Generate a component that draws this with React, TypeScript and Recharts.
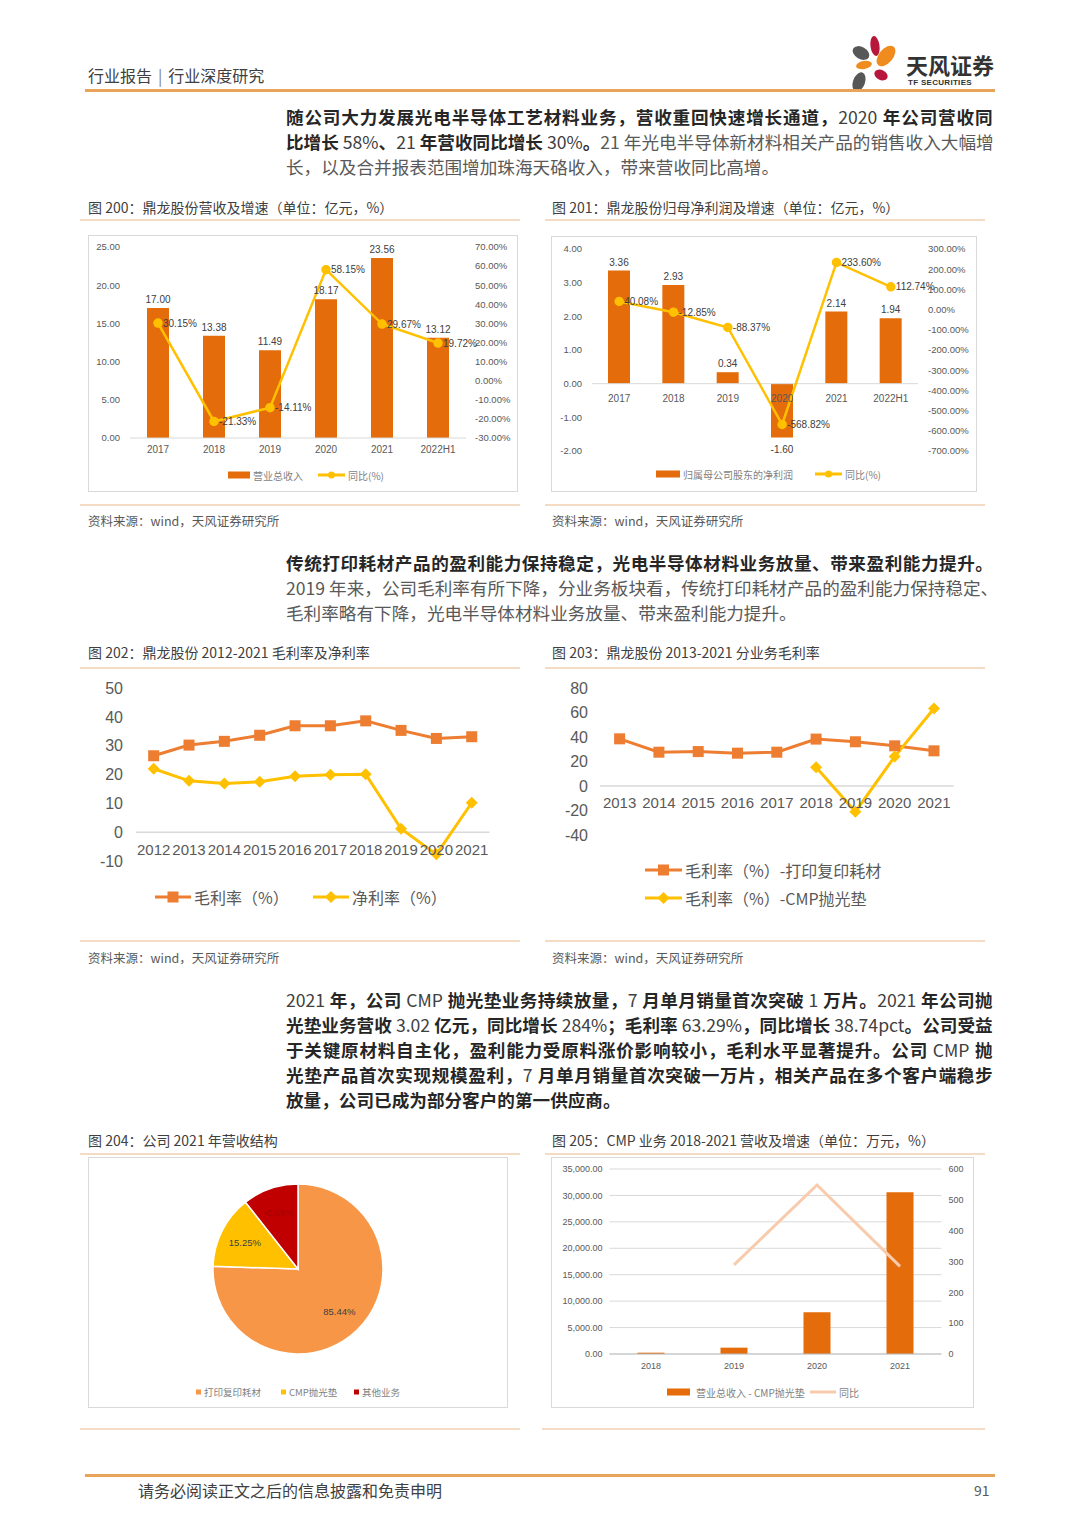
import React from "react";
import {
  Bar,
  Cell,
  CartesianGrid,
  ComposedChart,
  LabelList,
  Line,
  LineChart,
  Pie,
  PieChart,
  ReferenceLine,
  XAxis,
  YAxis,
} from "recharts";

const SANS = '"Noto Sans CJK SC", "Noto Sans", sans-serif';
const NUM = '"Liberation Sans", Arial, sans-serif';

const BAR = "#E46C0A";
const ORANGE = "#ED7D31";
const YELLOW = "#FFC000";
const PEACH = "#F8CBAD";
const TICK_GREY = "#595959";

// 图200 营收及增速
const revYears = ["2017", "2018", "2019", "2020", "2021", "2022H1"];
const revenue = [17.0, 13.38, 11.49, 18.17, 23.56, 13.12];
const revenueYoy = [30.15, -21.33, -14.11, 58.15, 29.67, 19.72];
const revLeftTicks = [0, 5, 10, 15, 20, 25];
const revRightTicks = [-30, -20, -10, 0, 10, 20, 30, 40, 50, 60, 70];

// 图201 归母净利润及增速
const profit = [3.36, 2.93, 0.34, -1.6, 2.14, 1.94];
const profitYoy = [40.08, -12.85, -88.37, -568.82, 233.6, 112.74];
const profitLeftTicks = [-2, -1, 0, 1, 2, 3, 4];
const profitRightTicks = [-700, -600, -500, -400, -300, -200, -100, 0, 100, 200, 300];

// 图202 毛利率及净利率
const marginYears = ["2012", "2013", "2014", "2015", "2016", "2017", "2018", "2019", "2020", "2021"];
const grossMargin = [26.5, 30.2, 31.5, 33.6, 36.9, 36.9, 38.6, 35.3, 32.5, 33.1];
const netMargin = [22.0, 17.8, 16.9, 17.5, 19.4, 19.9, 20.1, 1.2, -7.7, 10.2];
const marginTicks = [-10, 0, 10, 20, 30, 40, 50];

// 图203 分业务毛利率
const segYears = ["2013", "2014", "2015", "2016", "2017", "2018", "2019", "2020", "2021"];
const printMargin = [38.5, 27.6, 28.1, 26.8, 27.6, 38.3, 36.1, 32.8, 28.7];
const cmpMargin = [null, null, null, null, null, 15.3, -21.0, 24.0, 63.29];
const segTicks = [-40, -20, 0, 20, 40, 60, 80];

// 图204 营收结构
const pieNames = ["打印复印耗材", "CMP抛光垫", "其他业务"];
const pieShares = [75.5, 13.9, 10.6];
const pieLabels = ["85.44%", "15.25%", "-0.69%"];
const pieColors = ["#F79646", "#FFC000", "#C00000"];
const pieLabelColors = ["#404040", "#404040", "#A80000"];

// 图205 CMP 营收及增速
const cmpYears = ["2018", "2019", "2020", "2021"];
const cmpRevenue = [250, 1200, 7900, 30600];
const cmpYoy = [null, 289, 548, 284];
const cmpLeftTicks = [0, 5000, 10000, 15000, 20000, 25000, 30000, 35000];
const cmpRightTicks = [0, 100, 200, 300, 400, 500, 600];

type Part = [string, boolean];

function TextLine({ y, parts, justify = true }: { y: number; parts: Part[]; justify?: boolean }) {
  const tokens: { t: string; b: boolean }[] = [];
  parts.forEach(([s, b]) => {
    (s.match(/[A-Za-z0-9.%\-]+|\s+|[^\sA-Za-z0-9.%\-]/g) || []).forEach((t) => tokens.push({ t, b }));
  });
  return (
    <div
      style={{
        position: "absolute",
        left: 286,
        top: y - 13,
        width: 707,
        height: 26,
        display: "flex",
        justifyContent: justify ? "space-between" : "flex-start",
        alignItems: "center",
        fontSize: 17.6,
        lineHeight: "26px",
      }}
    >
      {tokens.map((k, i) => {
        if (/^\s+$/.test(k.t)) return <span key={i} style={{ width: 4, flexShrink: 0 }} />;
        const latin = /^[A-Za-z0-9.%\-]+$/.test(k.t);
        return (
          <span
            key={i}
            style={{
              flexShrink: 0,
              fontWeight: latin ? 400 : k.b ? 700 : 400,
              color: k.b ? (latin ? "#404040" : "#262626") : "#595959",
            }}
          >
            {k.t}
          </span>
        );
      })}
    </div>
  );
}

function T({ x, y, size, color = "#404040", weight = 400, children }: any) {
  return (
    <div
      style={{
        position: "absolute",
        left: x,
        top: y - size,
        height: size * 2,
        lineHeight: `${size * 2}px`,
        fontSize: size,
        color,
        fontWeight: weight,
        whiteSpace: "nowrap",
      }}
    >
      {children}
    </div>
  );
}

function Rule({ x, y, w, h = 2, color = "#F3DCC3" }: any) {
  return <div style={{ position: "absolute", left: x, top: y - h / 2, width: w, height: h, background: color }} />;
}

function Box({ x, y, w, h, children }: any) {
  return (
    <div
      style={{
        position: "absolute",
        left: x,
        top: y,
        width: w,
        height: h,
        border: "1px solid #D9D9D9",
        boxSizing: "border-box",
      }}
    >
      <div style={{ position: "absolute", left: -1, top: -1, width: w, height: h }}>{children}</div>
    </div>
  );
}

function Swatch({ kind, color, marker, w = 24 }: any) {
  if (kind === "bar") {
    return (
      <svg width={w} height={12}>
        <rect x={0} y={2.5} width={w} height={7} fill={color} />
      </svg>
    );
  }
  if (kind === "sq") {
    return (
      <svg width={6} height={12}>
        <rect x={0} y={3.5} width={5} height={5} fill={color} />
      </svg>
    );
  }
  const c = w / 2;
  return (
    <svg width={w} height={14}>
      <line x1={0} y1={7} x2={w} y2={7} stroke={color} strokeWidth={3} />
      {marker === "circle" && <circle cx={c} cy={7} r={3.5} fill={color} />}
      {marker === "square" && <rect x={c - 5.5} y={1.5} width={11} height={11} fill={color} />}
      {marker === "diamond" && <polygon points={`${c},1 ${c + 6},7 ${c},13 ${c - 6},7`} fill={color} />}
    </svg>
  );
}

function LegendItem({ x, y, label, size = 10, textColor = "#7F7F7F", gap = 3, kind, color, marker, w }: any) {
  return (
    <div
      style={{
        position: "absolute",
        left: x,
        top: y - 10,
        height: 20,
        display: "flex",
        alignItems: "center",
        gap,
        fontSize: size,
        color: textColor,
        whiteSpace: "nowrap",
      }}
    >
      <Swatch kind={kind} color={color} marker={marker} w={w} />
      <span>{label}</span>
    </div>
  );
}

const signedBarLabel = (size: number) => (p: any) => {
  const { x, y, width, height, value } = p;
  const top = Math.min(y, y + height);
  const bottom = Math.max(y, y + height);
  const neg = Number(value) < 0;
  return (
    <text
      x={x + width / 2}
      y={neg ? bottom + 15 : top - 5}
      textAnchor="middle"
      fontSize={size}
      fontFamily={NUM}
      fill="#404040"
    >
      {Number(value).toFixed(2)}
    </text>
  );
};

const categoryLabel = (dy: number, size: number) => (p: any) => (
  <text x={p.x} y={p.y + dy} textAnchor="middle" fontSize={size} fontFamily={NUM} fill={TICK_GREY}>
    {p.value}
  </text>
);

const squareDot = (color: string, s: number) => (p: any) => {
  if (p.cx == null || p.cy == null || p.value == null) return <g key={`s${p.index}`} />;
  return <rect key={`s${p.index}`} x={p.cx - s / 2} y={p.cy - s / 2} width={s} height={s} fill={color} />;
};

const diamondDot = (color: string, s: number) => (p: any) => {
  if (p.cx == null || p.cy == null || p.value == null) return <g key={`d${p.index}`} />;
  const h = s / 2;
  return (
    <polygon
      key={`d${p.index}`}
      points={`${p.cx},${p.cy - h} ${p.cx + h},${p.cy} ${p.cx},${p.cy + h} ${p.cx - h},${p.cy}`}
      fill={color}
    />
  );
};

const tick = (size: number) => ({ fontSize: size, fill: TICK_GREY, fontFamily: NUM });

function RevenueChart() {
  const rows = revYears.map((year, i) => ({ year, value: revenue[i], yoy: revenueYoy[i] }));
  return (
    <Box x={88} y={235} w={430} h={257}>
      <ComposedChart width={430} height={257} data={rows} margin={{ top: 12, right: 0, bottom: 32, left: 0 }}>
        <XAxis
          dataKey="year"
          height={22}
          axisLine={{ stroke: "#D9D9D9" }}
          tickLine={false}
          tickSize={0}
          tickMargin={8}
          tick={tick(10)}
          interval={0}
        />
        <YAxis
          yAxisId="l"
          width={42}
          domain={[0, 25]}
          ticks={revLeftTicks}
          interval={0}
          tickFormatter={(v: number) => v.toFixed(2)}
          axisLine={false}
          tickLine={false}
          tickSize={0}
          tickMargin={10}
          tick={tick(9.5)}
        />
        <YAxis
          yAxisId="r"
          orientation="right"
          width={52}
          domain={[-30, 70]}
          ticks={revRightTicks}
          interval={0}
          tickFormatter={(v: number) => `${v.toFixed(2)}%`}
          axisLine={false}
          tickLine={false}
          tickSize={0}
          tickMargin={9}
          tick={tick(9.5)}
        />
        <Bar yAxisId="l" dataKey="value" fill={BAR} barSize={22} isAnimationActive={false}>
          <LabelList dataKey="value" content={signedBarLabel(10)} />
        </Bar>
        <Line
          yAxisId="r"
          dataKey="yoy"
          stroke={YELLOW}
          strokeWidth={2.5}
          dot={{ r: 3.5, fill: YELLOW, stroke: YELLOW }}
          isAnimationActive={false}
        >
          <LabelList
            dataKey="yoy"
            position="right"
            offset={5}
            formatter={(v: any) => `${Number(v).toFixed(2)}%`}
            fontSize={10}
            fontFamily={NUM}
            fill="#404040"
          />
        </Line>
      </ComposedChart>
      <LegendItem x={140} y={240} kind="bar" color={BAR} w={22} label="营业总收入" />
      <LegendItem x={230} y={240} kind="line" marker="circle" color={YELLOW} w={27} label="同比(%)" />
    </Box>
  );
}

function ProfitChart() {
  const rows = revYears.map((year, i) => ({ year, value: profit[i], yoy: profitYoy[i], base: 0 }));
  return (
    <Box x={551} y={236} w={426} h={256}>
      <ComposedChart width={426} height={256} data={rows} margin={{ top: 13, right: 0, bottom: 41, left: 0 }}>
        <XAxis dataKey="year" hide />
        <YAxis
          yAxisId="l"
          width={41}
          domain={[-2, 4]}
          ticks={profitLeftTicks}
          interval={0}
          tickFormatter={(v: number) => v.toFixed(2)}
          axisLine={false}
          tickLine={false}
          tickSize={0}
          tickMargin={10}
          tick={tick(9.5)}
        />
        <YAxis
          yAxisId="r"
          orientation="right"
          width={59}
          domain={[-700, 300]}
          ticks={profitRightTicks}
          interval={0}
          tickFormatter={(v: number) => `${v.toFixed(2)}%`}
          axisLine={false}
          tickLine={false}
          tickSize={0}
          tickMargin={10}
          tick={tick(9.5)}
        />
        <ReferenceLine yAxisId="l" y={0} stroke="#D9D9D9" />
        <Bar yAxisId="l" dataKey="value" fill={BAR} barSize={22} isAnimationActive={false}>
          <LabelList dataKey="value" content={signedBarLabel(10)} />
        </Bar>
        <Line
          yAxisId="l"
          dataKey="base"
          stroke="none"
          dot={false}
          activeDot={false}
          legendType="none"
          isAnimationActive={false}
        >
          <LabelList dataKey="year" content={categoryLabel(18, 10)} />
        </Line>
        <Line
          yAxisId="r"
          dataKey="yoy"
          stroke={YELLOW}
          strokeWidth={2.5}
          dot={{ r: 3.5, fill: YELLOW, stroke: YELLOW }}
          isAnimationActive={false}
        >
          <LabelList
            dataKey="yoy"
            position="right"
            offset={5}
            formatter={(v: any) => `${Number(v).toFixed(2)}%`}
            fontSize={10}
            fontFamily={NUM}
            fill="#404040"
          />
        </Line>
      </ComposedChart>
      <LegendItem x={105} y={238} kind="bar" color={BAR} w={24} label="归属母公司股东的净利润" />
      <LegendItem x={264} y={238} kind="line" marker="circle" color={YELLOW} w={27} label="同比(%)" />
    </Box>
  );
}

function MarginChart() {
  const rows = marginYears.map((year, i) => ({ year, gross: grossMargin[i], net: netMargin[i], base: 0 }));
  return (
    <div style={{ position: "absolute", left: 80, top: 670, width: 440, height: 265 }}>
      <LineChart width={440} height={265} data={rows} margin={{ top: 18, right: 30.6, bottom: 74, left: 0 }}>
        <XAxis dataKey="year" hide padding={{ left: 17.67, right: 17.67 }} />
        <YAxis
          width={56}
          domain={[-10, 50]}
          ticks={marginTicks}
          interval={0}
          axisLine={false}
          tickLine={false}
          tickSize={0}
          tickMargin={13}
          tick={tick(16)}
        />
        <ReferenceLine y={0} stroke="#D9D9D9" strokeWidth={1.5} />
        <Line dataKey="base" stroke="none" dot={false} activeDot={false} legendType="none" isAnimationActive={false}>
          <LabelList dataKey="year" content={categoryLabel(23, 15)} />
        </Line>
        <Line dataKey="gross" stroke={ORANGE} strokeWidth={3} dot={squareDot(ORANGE, 11)} isAnimationActive={false} />
        <Line dataKey="net" stroke={YELLOW} strokeWidth={3} dot={diamondDot(YELLOW, 12)} isAnimationActive={false} />
      </LineChart>
      <LegendItem x={75} y={227} kind="line" marker="square" color={ORANGE} w={36} label="毛利率（%）" size={16} textColor="#595959" />
      <LegendItem x={233} y={227} kind="line" marker="diamond" color={YELLOW} w={36} label="净利率（%）" size={16} textColor="#595959" />
    </div>
  );
}

function SegmentChart() {
  const rows = segYears.map((year, i) => ({ year, print: printMargin[i], cmp: cmpMargin[i], base: 0 }));
  return (
    <div style={{ position: "absolute", left: 545, top: 670, width: 440, height: 265 }}>
      <LineChart width={440} height={265} data={rows} margin={{ top: 18, right: 31.4, bottom: 100, left: 0 }}>
        <XAxis dataKey="year" hide padding={{ left: 19.62, right: 19.62 }} />
        <YAxis
          width={55}
          domain={[-40, 80]}
          ticks={segTicks}
          interval={0}
          axisLine={false}
          tickLine={false}
          tickSize={0}
          tickMargin={12}
          tick={tick(16)}
        />
        <ReferenceLine y={0} stroke="#D9D9D9" strokeWidth={1.5} />
        <Line dataKey="base" stroke="none" dot={false} activeDot={false} legendType="none" isAnimationActive={false}>
          <LabelList dataKey="year" content={categoryLabel(22, 15)} />
        </Line>
        <Line dataKey="print" stroke={ORANGE} strokeWidth={3} dot={squareDot(ORANGE, 11)} isAnimationActive={false} />
        <Line
          dataKey="cmp"
          stroke={YELLOW}
          strokeWidth={3}
          dot={diamondDot(YELLOW, 12)}
          connectNulls={false}
          isAnimationActive={false}
        />
      </LineChart>
      <LegendItem x={100} y={200} kind="line" marker="square" color={ORANGE} w={37} label="毛利率（%）-打印复印耗材" size={16} textColor="#595959" />
      <LegendItem x={100} y={228} kind="line" marker="diamond" color={YELLOW} w={37} label="毛利率（%）-CMP抛光垫" size={16} textColor="#595959" />
    </div>
  );
}

function StructureChart() {
  const rows = pieNames.map((name, i) => ({ name, share: pieShares[i] }));
  const RAD = Math.PI / 180;
  const renderLabel = (p: any) => {
    const r = p.outerRadius * 0.7;
    const x = p.cx + r * Math.cos(-p.midAngle * RAD);
    const y = p.cy + r * Math.sin(-p.midAngle * RAD);
    return (
      <text
        x={x}
        y={y}
        textAnchor="middle"
        dominantBaseline="central"
        fontSize={9.5}
        fontFamily={NUM}
        fill={pieLabelColors[p.index]}
      >
        {pieLabels[p.index]}
      </text>
    );
  };
  return (
    <Box x={88} y={1157} w={420} h={251}>
      <PieChart width={420} height={251} margin={{ top: 0, right: 0, bottom: 0, left: 0 }}>
        <Pie
          data={rows}
          dataKey="share"
          nameKey="name"
          cx={210}
          cy={112}
          outerRadius={85}
          startAngle={90}
          endAngle={-270}
          stroke="#FFFFFF"
          strokeWidth={1.5}
          label={renderLabel}
          labelLine={false}
          isAnimationActive={false}
        >
          {rows.map((r, i) => (
            <Cell key={r.name} fill={pieColors[i]} />
          ))}
        </Pie>
      </PieChart>
      <LegendItem x={108} y={235} kind="sq" color={pieColors[0]} label={pieNames[0]} size={9.5} gap={2} />
      <LegendItem x={193} y={235} kind="sq" color={pieColors[1]} label={pieNames[1]} size={9.5} gap={2} />
      <LegendItem x={266} y={235} kind="sq" color={pieColors[2]} label={pieNames[2]} size={9.5} gap={2} />
    </Box>
  );
}

function CmpChart() {
  const rows = cmpYears.map((year, i) => ({ year, value: cmpRevenue[i], yoy: cmpYoy[i] }));
  return (
    <Box x={551} y={1157} w={423} h={251}>
      <ComposedChart width={423} height={251} data={rows} margin={{ top: 12, right: 0, bottom: 32, left: 0 }}>
        <CartesianGrid yAxisId="l" vertical={false} stroke="#D9D9D9" />
        <XAxis
          dataKey="year"
          height={22}
          axisLine={{ stroke: "#BFBFBF" }}
          tickLine={false}
          tickSize={0}
          tickMargin={9}
          tick={tick(9)}
          interval={0}
        />
        <YAxis
          yAxisId="l"
          width={58.5}
          domain={[0, 35000]}
          ticks={cmpLeftTicks}
          interval={0}
          tickFormatter={(v: number) => v.toLocaleString("en-US", { minimumFractionDigits: 2, maximumFractionDigits: 2 })}
          axisLine={false}
          tickLine={false}
          tickSize={0}
          tickMargin={7}
          tick={tick(9)}
        />
        <YAxis
          yAxisId="r"
          orientation="right"
          width={32.5}
          domain={[0, 600]}
          ticks={cmpRightTicks}
          interval={0}
          axisLine={false}
          tickLine={false}
          tickSize={0}
          tickMargin={7}
          tick={tick(9)}
        />
        <Bar yAxisId="l" dataKey="value" fill={BAR} barSize={27} isAnimationActive={false} />
        <Line yAxisId="r" dataKey="yoy" stroke={PEACH} strokeWidth={3} dot={false} isAnimationActive={false} />
      </ComposedChart>
      <LegendItem x={116} y={235} kind="bar" color={BAR} w={23} gap={6} label="营业总收入 - CMP抛光垫" size={10} />
      <LegendItem x={259} y={235} kind="line" color={PEACH} w={26} label="同比" size={10} />
    </Box>
  );
}

function Logo() {
  return (
    <>
      <svg style={{ position: "absolute", left: 840, top: 30 }} width={70} height={70}>
        <ellipse cx={35} cy={16} rx={4.5} ry={10} fill="#B7173B" transform="rotate(-8 35 16)" />
        <ellipse cx={46} cy={26} rx={7} ry={12} fill="#F08C1E" transform="rotate(40 46 26)" />
        <ellipse cx={21} cy={23} rx={9} ry={6} fill="#575757" transform="rotate(30 21 23)" />
        <ellipse cx={24} cy={35} rx={8} ry={4} fill="#F08C1E" transform="rotate(-10 24 35)" />
        <ellipse cx={41} cy={45} rx={7} ry={5} fill="#B7173B" transform="rotate(25 41 45)" />
        <ellipse cx={19} cy={52} rx={6} ry={10} fill="#575757" transform="rotate(20 19 52)" />
      </svg>
      <T x={906} y={64} size={22} weight={700} color="#333333">
        天风证券
      </T>
      <div
        style={{
          position: "absolute",
          left: 908,
          top: 78,
          fontSize: 8,
          fontWeight: 700,
          color: "#333333",
          fontFamily: NUM,
          letterSpacing: 0.3,
          whiteSpace: "nowrap",
        }}
      >
        TF SECURITIES
      </div>
    </>
  );
}

export default function App() {
  return (
    <div
      style={{
        position: "absolute",
        left: 0,
        top: 0,
        width: 1080,
        height: 1527,
        background: "#FFFFFF",
        overflow: "hidden",
        fontFamily: SANS,
      }}
    >
      <T x={88} y={75} size={16} color="#404040">
        行业报告<span style={{ margin: "0 6px", color: "#7F7F7F" }}>|</span>行业深度研究
      </T>
      <Logo />
      <Rule x={85} y={90} w={910} h={3} color="#E9A45B" />

      <TextLine y={117} parts={[["随公司大力发展光电半导体工艺材料业务，营收重回快速增长通道，2020 年公司营收同", true]]} />
      <TextLine
        y={142}
        parts={[
          ["比增长 58%、21 年营收同比增长 30%。", true],
          ["21 年光电半导体新材料相关产品的销售收入大幅增", false],
        ]}
      />
      <TextLine y={167} justify={false} parts={[["长，以及合并报表范围增加珠海天硌收入，带来营收同比高增。", false]]} />

      <T x={88} y={207} size={14}>图 200：鼎龙股份营收及增速（单位：亿元，%）</T>
      <T x={552} y={207} size={14}>图 201：鼎龙股份归母净利润及增速（单位：亿元，%）</T>
      <Rule x={80} y={220} w={440} />
      <Rule x={545} y={220} w={440} />
      <RevenueChart />
      <ProfitChart />
      <Rule x={80} y={505} w={440} />
      <Rule x={545} y={505} w={440} />
      <T x={88} y={520} size={12.5} color="#595959">资料来源：wind，天风证券研究所</T>
      <T x={552} y={520} size={12.5} color="#595959">资料来源：wind，天风证券研究所</T>

      <TextLine y={563} parts={[["传统打印耗材产品的盈利能力保持稳定，光电半导体材料业务放量、带来盈利能力提升。", true]]} />
      <TextLine y={588} parts={[["2019 年来，公司毛利率有所下降，分业务板块看，传统打印耗材产品的盈利能力保持稳定、", false]]} />
      <TextLine y={613} justify={false} parts={[["毛利率略有下降，光电半导体材料业务放量、带来盈利能力提升。", false]]} />

      <T x={88} y={652} size={14}>图 202：鼎龙股份 2012-2021 毛利率及净利率</T>
      <T x={552} y={652} size={14}>图 203：鼎龙股份 2013-2021 分业务毛利率</T>
      <Rule x={80} y={668} w={440} />
      <Rule x={545} y={668} w={440} />
      <MarginChart />
      <SegmentChart />
      <Rule x={80} y={941} w={440} />
      <Rule x={545} y={941} w={440} />
      <T x={88} y={957} size={12.5} color="#595959">资料来源：wind，天风证券研究所</T>
      <T x={552} y={957} size={12.5} color="#595959">资料来源：wind，天风证券研究所</T>

      <TextLine y={1000} parts={[["2021 年，公司 CMP 抛光垫业务持续放量，7 月单月销量首次突破 1 万片。2021 年公司抛", true]]} />
      <TextLine y={1025} parts={[["光垫业务营收 3.02 亿元，同比增长 284%；毛利率 63.29%，同比增长 38.74pct。公司受益", true]]} />
      <TextLine y={1050} parts={[["于关键原材料自主化，盈利能力受原料涨价影响较小，毛利水平显著提升。公司 CMP 抛", true]]} />
      <TextLine y={1075} parts={[["光垫产品首次实现规模盈利，7 月单月销量首次突破一万片，相关产品在多个客户端稳步", true]]} />
      <TextLine y={1100} justify={false} parts={[["放量，公司已成为部分客户的第一供应商。", true]]} />

      <T x={88} y={1140} size={14}>图 204：公司 2021 年营收结构</T>
      <T x={552} y={1140} size={14}>图 205：CMP 业务 2018-2021 营收及增速（单位：万元，%）</T>
      <Rule x={80} y={1154} w={440} />
      <Rule x={545} y={1154} w={440} />
      <StructureChart />
      <CmpChart />
      <Rule x={80} y={1429} w={440} />
      <Rule x={542} y={1429} w={443} />

      <Rule x={85} y={1475} w={910} h={3} color="#E9A45B" />
      <T x={138} y={1490} size={16} color="#404040">请务必阅读正文之后的信息披露和免责申明</T>
      <T x={974} y={1490} size={14} color="#595959">91</T>
    </div>
  );
}
